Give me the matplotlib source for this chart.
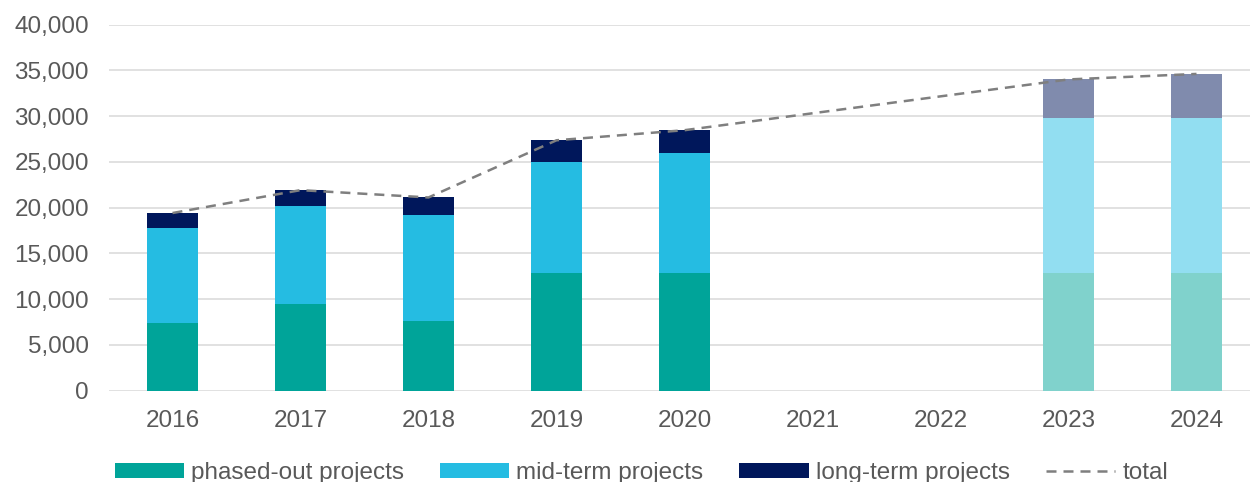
import numpy as np
import matplotlib
matplotlib.use("Agg")
import matplotlib.pyplot as plt
from matplotlib.colors import to_rgb
from matplotlib.ticker import FuncFormatter

# Project volumes per year (2021 and 2022 have no data)
years = ["2016", "2017", "2018", "2019", "2020", "2021", "2022", "2023", "2024"]
phased_out = [7400, 9450, 7650, 12800, 12800, np.nan, np.nan, 12850, 12850]
mid_term = [10350, 10700, 11550, 12150, 13200, np.nan, np.nan, 16950, 16950]
long_term = [1650, 1750, 1900, 2400, 2450, np.nan, np.nan, 4200, 4800]
projected_years = ["2023", "2024"]

labels = ["phased-out projects", "mid-term projects", "long-term projects", "total"]
colors = ["#00A499", "#25BCE2", "#00175B"]

plt.rcParams["font.family"] = ["Liberation Sans", "DejaVu Sans"]
text_color = "#595959"
fs = 17.5


def lighten(c, f=0.5):
    r, g, b = to_rgb(c)
    return (r + (1 - r) * f, g + (1 - g) * f, b + (1 - b) * f)


fig = plt.figure(figsize=(12.5, 4.82), dpi=100)
ax = fig.add_axes([0.0868, 0.1898, 0.9216, 0.7593])

x = np.arange(len(years))
po = np.array(phased_out, dtype=float)
mt = np.array(mid_term, dtype=float)
lt = np.array(long_term, dtype=float)
total = po + mt + lt

width = 0.406
handles = []
for i, yr in enumerate(years):
    if np.isnan(po[i]):
        continue
    faded = yr in projected_years
    bottom = 0.0
    for vals, c in zip((po, mt, lt), colors):
        fc = lighten(c) if faded else c
        b = ax.bar(x[i], vals[i], width, bottom=bottom, color=fc,
                   linewidth=0, zorder=3)
        bottom += vals[i]
        if i == 0:
            handles.append(b)

valid = ~np.isnan(total)
line, = ax.plot(x[valid], total[valid], color="#7F7F7F", linewidth=1.8,
                dashes=(4, 2.8), zorder=4)
handles.append(line)

ax.set_xlim(-0.5, len(years) - 0.5)
ax.set_ylim(0, 40000)
ax.set_yticks(np.arange(0, 40001, 5000))
ax.yaxis.set_major_formatter(FuncFormatter(lambda v, p: f"{int(v):,}"))
ax.set_xticks(x)
ax.set_xticklabels(years)

ax.grid(axis="y", color="#D9D9D9", linewidth=1.1, zorder=0)
ax.set_axisbelow(True)
for s in ax.spines.values():
    s.set_visible(False)
ax.tick_params(axis="both", length=0, labelsize=fs, colors=text_color)
ax.tick_params(axis="y", pad=14)
ax.tick_params(axis="x", pad=14)

fig.legend(handles, labels, loc="center", bbox_to_anchor=(0.513, 0.019),
           ncol=4, frameon=False, fontsize=fs, labelcolor=text_color,
           handlelength=2.85, handleheight=0.6, handletextpad=0.3,
           columnspacing=1.47, borderpad=0, borderaxespad=0)

fig.savefig("out.png", dpi=100)
